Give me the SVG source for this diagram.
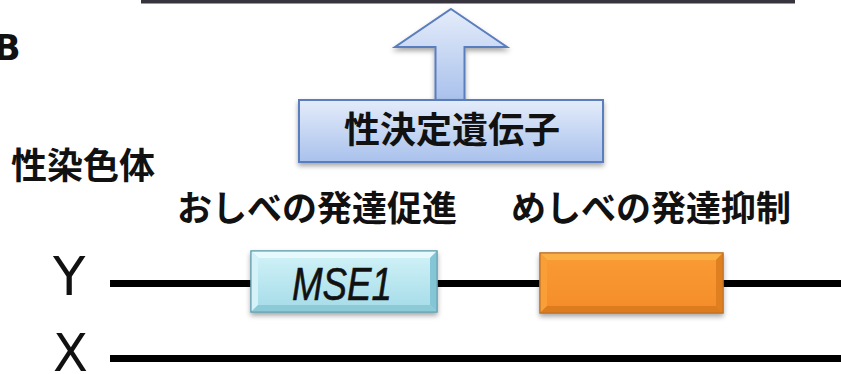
<svg xmlns="http://www.w3.org/2000/svg" width="841" height="374" viewBox="0 0 841 374">
  <style>
    .jp { font-family: "Noto Sans CJK JP", "Noto Sans CJK SC", sans-serif; font-weight: 700; fill: #111; }
    .lat { font-family: "DejaVu Sans", "Liberation Sans", sans-serif; fill: #111; }
    .chrom { stroke: #000; stroke-width: 7; fill: none; }
  </style>
  <defs>
    <linearGradient id="blueFill" x1="0" y1="0" x2="0" y2="1">
      <stop offset="0" stop-color="#e4ecfa"/>
      <stop offset="1" stop-color="#a9c1ec"/>
    </linearGradient>
    <linearGradient id="cyanFace" x1="0" y1="0" x2="0" y2="1">
      <stop offset="0" stop-color="#cdf0f6"/>
      <stop offset="1" stop-color="#a9deea"/>
    </linearGradient>
    <linearGradient id="orangeFace" x1="0" y1="0" x2="0" y2="1">
      <stop offset="0" stop-color="#f99a34"/>
      <stop offset="1" stop-color="#f58e2a"/>
    </linearGradient>
    <filter id="shadow" x="-10%" y="-20%" width="120%" height="150%">
      <feDropShadow dx="0" dy="3" stdDeviation="2.5" flood-color="#000" flood-opacity="0.35"/>
    </filter>
  </defs>

  <!-- top rule -->
  <rect x="141" y="0" width="654" height="3.5" fill="#38343d"/>

  <!-- panel letter -->
  <text x="-6" y="60" font-size="35" font-weight="700" font-family="DejaVu Sans, sans-serif" fill="#111">B</text>

  <!-- connectors: chromosome lines -->
  <g id="connectors">
    <line class="chrom" x1="110" y1="283.5" x2="841" y2="283.5"/>
    <line class="chrom" x1="110" y1="358.5" x2="841" y2="358.5"/>
  </g>

  <!-- arrow up from sex-determining gene -->
  <g id="arrow-up" filter="url(#shadow)">
    <polygon points="451,9 507,47 464.5,47 464.5,101 435.5,101 435.5,47 395,47" fill="url(#blueFill)" stroke="#5a7dbd" stroke-width="2" stroke-linejoin="miter"/>
  </g>

  <!-- sex-determining gene box -->
  <g id="sex-determination-gene">
    <rect x="299" y="100" width="304" height="62" fill="url(#blueFill)" stroke="#5a7dbd" stroke-width="2" filter="url(#shadow)"/>
    <text class="jp" x="452" y="143" font-size="36" text-anchor="middle">性決定遺伝子</text>
  </g>

  <!-- label sex chromosome -->
  <g id="label-sex-chromosome">
    <text class="jp" x="11" y="179" font-size="36">性染色体</text>
  </g>

  <g id="label-stamen">
    <text class="jp" x="177" y="221" font-size="35">おしべの発達促進</text>
  </g>
  <g id="label-pistil">
    <text class="jp" x="511" y="221" font-size="35">めしべの発達抑制</text>
  </g>

  <!-- chromosome labels -->
  <g id="chrom-Y">
    <text class="lat" x="53" y="295" font-size="53">Y</text>
  </g>
  <g id="chrom-X">
    <text class="lat" x="53" y="371" font-size="51">X</text>
  </g>

  <!-- MSE1 gene -->
  <g id="gene-MSE1">
    <g filter="url(#shadow)">
      <rect x="251" y="251" width="186" height="61" fill="#a6dce8" stroke="#6aa3b3" stroke-width="1.2"/>
    </g>
    <polygon points="251,251 437,251 430,258 258,258" fill="#e6f9fc"/>
    <polygon points="251,251 258,258 258,305 251,312" fill="#d4f2f7"/>
    <polygon points="437,251 437,312 430,305 430,258" fill="#84c6d6"/>
    <polygon points="251,312 258,305 430,305 437,312" fill="#8ccad8"/>
    <rect x="258" y="258" width="172" height="47" fill="url(#cyanFace)"/>
    <rect x="251" y="251" width="186" height="61" fill="none" stroke="#6aa3b3" stroke-width="1.2"/>
    <text x="292" y="300" font-size="46" font-style="italic" font-family="Liberation Sans, Arial, sans-serif" fill="#111" stroke="#111" stroke-width="0.6" textLength="100" lengthAdjust="spacingAndGlyphs">MSE1</text>
  </g>

  <!-- female-suppressor gene -->
  <g id="gene-suppressor">
    <g filter="url(#shadow)">
      <rect x="540" y="253" width="183" height="60" fill="#f08a26" stroke="#c0742a" stroke-width="1.2"/>
    </g>
    <polygon points="540,253 723,253 716,260 547,260" fill="#fbb046"/>
    <polygon points="540,253 547,260 547,306 540,313" fill="#fa9f38"/>
    <polygon points="723,253 723,313 716,306 716,260" fill="#e07f20"/>
    <polygon points="540,313 547,306 716,306 723,313" fill="#dc7c1e"/>
    <rect x="547" y="260" width="169" height="46" fill="url(#orangeFace)"/>
    <rect x="540" y="253" width="183" height="60" fill="none" stroke="#c0742a" stroke-width="1.2"/>
  </g>
</svg>
